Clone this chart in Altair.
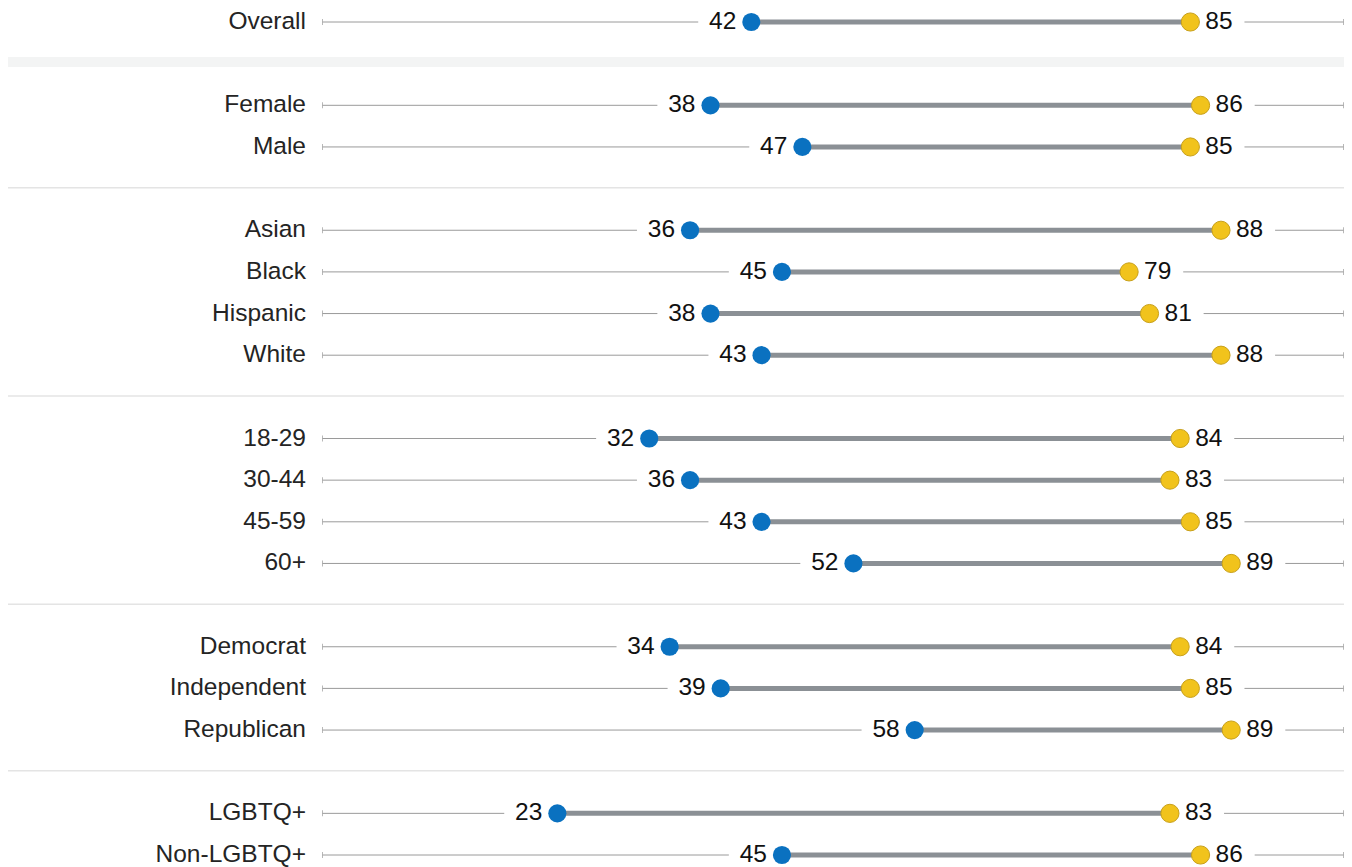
import altair as alt
import pandas as pd

groups = [
    ["Overall"],
    ["Female", "Male"],
    ["Asian", "Black", "Hispanic", "White"],
    ["18-29", "30-44", "45-59", "60+"],
    ["Democrat", "Independent", "Republican"],
    ["LGBTQ+", "Non-LGBTQ+"],
]
left_values = [42, 38, 47, 36, 45, 38, 43, 32, 36, 43, 52, 34, 39, 58, 23, 45]
right_values = [85, 86, 85, 88, 79, 81, 88, 84, 83, 85, 89, 84, 85, 89, 83, 86]

# build row indices, with one empty row between groups
rows, gaps = [], []
i = 0
for g, items in enumerate(groups):
    if g > 0:
        gaps.append(i)
        i += 1
    for name in items:
        rows.append((name, i))
        i += 1

df = pd.DataFrame({
    "label": [r[0] for r in rows],
    "idx": [r[1] for r in rows],
    "left": left_values,
    "right": right_values,
})
df["zero"] = 0
df["hundred"] = 100

gap_df = pd.DataFrame({"gap": gaps[1:]})
band_df = pd.DataFrame({"gap": gaps[:1]})

W, H = 1336, 860
K = 10.21
X0 = -(322.5 - 8) / K
X1 = X0 + W / K
RY = 41.65
Y0 = -(22 - 8) / RY
Y1 = Y0 + H / RY

xs = alt.Scale(domain=[X0, X1], nice=False, zero=False)
ys = alt.Scale(domain=[Y0, Y1], nice=False, zero=False, reverse=True)

FONT = "Liberation Sans"
FS = 24.5
THIN = "#9a9a9a"

base = alt.Chart(df)

band = alt.Chart(band_df).transform_calculate(
    y1="datum.gap - 0.16", y2="datum.gap + 0.08"
).mark_rect(color="#f3f4f4").encode(
    x=alt.value(0), x2=alt.value(W),
    y=alt.Y("y1:Q", scale=ys, axis=None), y2="y2:Q",
)

seps = alt.Chart(gap_df).transform_calculate(
    gy="datum.gap - 0.02"
).mark_rule(color="#e4e4e4", strokeWidth=1.5).encode(
    x=alt.value(0), x2=alt.value(W),
    y=alt.Y("gy:Q", scale=ys, axis=None),
)

thin_left = base.transform_calculate(end="datum.left - 5.2").mark_rule(
    color=THIN, strokeWidth=1
).encode(
    x=alt.X("zero:Q", scale=xs, axis=None), x2="end:Q",
    y=alt.Y("idx:Q", scale=ys, axis=None),
)
thin_right = base.transform_calculate(start="datum.right + 5.3").mark_rule(
    color=THIN, strokeWidth=1
).encode(
    x=alt.X("start:Q", scale=xs, axis=None), x2="hundred:Q",
    y=alt.Y("idx:Q", scale=ys, axis=None),
)
tick0 = base.mark_tick(orient="vertical", size=6, thickness=1, color=THIN).encode(
    x=alt.X("zero:Q", scale=xs, axis=None),
    y=alt.Y("idx:Q", scale=ys, axis=None),
)
tick100 = base.mark_tick(orient="vertical", size=6, thickness=1, color=THIN).encode(
    x=alt.X("hundred:Q", scale=xs, axis=None),
    y=alt.Y("idx:Q", scale=ys, axis=None),
)

bar = base.mark_rule(color="#8b9095", strokeWidth=5).encode(
    x=alt.X("left:Q", scale=xs, axis=None), x2="right:Q",
    y=alt.Y("idx:Q", scale=ys, axis=None),
)

blue = base.mark_point(filled=True, shape="circle", size=330, color="#0a71c0", opacity=1).encode(
    x=alt.X("left:Q", scale=xs, axis=None),
    y=alt.Y("idx:Q", scale=ys, axis=None),
)
yellow = base.mark_point(
    filled=True, shape="circle", size=330, fill="#f1c31c", stroke="#c8a01a",
    strokeWidth=1, opacity=1
).encode(
    x=alt.X("right:Q", scale=xs, axis=None),
    y=alt.Y("idx:Q", scale=ys, axis=None),
)

cat_text = base.mark_text(
    align="right", baseline="middle", fontSize=FS, font=FONT, color="#242424"
).encode(
    x=alt.value(298),
    y=alt.Y("idx:Q", scale=ys, axis=None),
    text="label:N",
)
lt = base.mark_text(
    align="right", baseline="middle", fontSize=FS, font=FONT, color="#111111", dx=-15
).encode(
    x=alt.X("left:Q", scale=xs, axis=None),
    y=alt.Y("idx:Q", scale=ys, axis=None),
    text="left:Q",
)
rt = base.mark_text(
    align="left", baseline="middle", fontSize=FS, font=FONT, color="#111111", dx=15
).encode(
    x=alt.X("right:Q", scale=xs, axis=None),
    y=alt.Y("idx:Q", scale=ys, axis=None),
    text="right:Q",
)

chart = alt.layer(
    band, seps, thin_left, thin_right, tick0, tick100, bar, blue, yellow, cat_text, lt, rt
).properties(
    width=W, height=H,
    autosize=alt.AutoSizeParams(type="none"),
    padding=0,
).configure_view(stroke=None)

chart.save("out.html", embed_options={"renderer": "svg", "actions": False})
